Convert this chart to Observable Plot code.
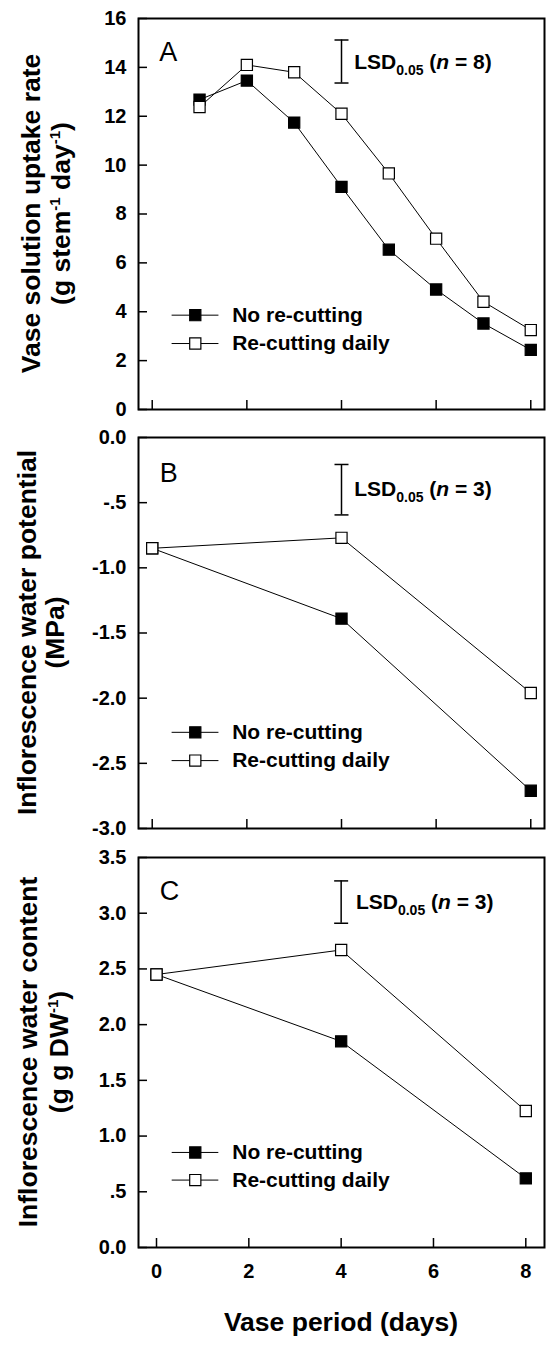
<!DOCTYPE html>
<html><head><meta charset="utf-8">
<script src="https://cdn.jsdelivr.net/npm/d3@7"></script>
<script src="https://cdn.jsdelivr.net/npm/@observablehq/plot@0.6"></script>
<style>
body{margin:0;background:#fff;}
#chart{width:551px;}
#chart svg{display:block;}
</style></head><body><div id="chart"></div>
<script>
const FONT = '"Liberation Sans", Arial, Helvetica, sans-serif';

// ---- data ----
const seriesNames = ["No re-cutting", "Re-cutting daily"];
const xTicks = [0, 2, 4, 6, 8];
const xTickLabels = ["0", "2", "4", "6", "8"];
const xTitle = "Vase period (days)";

// Panel A: vase solution uptake rate
const daysA = [1, 2, 3, 4, 5, 6, 7, 8];
const uptakeNoCut = [12.68, 13.46, 11.74, 9.11, 6.54, 4.91, 3.52, 2.44];
const uptakeReCut = [12.38, 14.10, 13.80, 12.10, 9.66, 6.99, 4.41, 3.25];
const uptakeLSD = [13.36, 15.12];
const yTicksA = [0, 2, 4, 6, 8, 10, 12, 14, 16];
const yLabelsA = ["0", "2", "4", "6", "8", "10", "12", "14", "16"];

// Panel B: inflorescence water potential
const daysBC = [0, 4, 8];
const potentialNoCut = [-0.85, -1.39, -2.71];
const potentialReCut = [-0.85, -0.77, -1.96];
const potentialLSD = [-0.594, -0.207];
const yTicksB = [0, -0.5, -1, -1.5, -2, -2.5, -3];
const yLabelsB = ["0.0", "-.5", "-1.0", "-1.5", "-2.0", "-2.5", "-3.0"];

// Panel C: inflorescence water content
const contentNoCut = [2.45, 1.85, 0.62];
const contentReCut = [2.45, 2.67, 1.225];
const contentLSD = [2.91, 3.29];
const yTicksC = [0, 0.5, 1, 1.5, 2, 2.5, 3, 3.5];
const yLabelsC = ["0.0", ".5", "1.0", "1.5", "2.0", "2.5", "3.0", "3.5"];

// ---- drawing ----
const capSymbol = {
  draw(context, size) {
    const r = Math.sqrt(size / Math.PI);
    context.moveTo(-r, 0);
    context.lineTo(r, 0);
  }
};

function makePanel(cfg) {
  const W = 551, mL = 138, mR = 7;
  const fw = W - mL - mR;
  const fh = cfg.height - cfg.marginTop - cfg.marginBottom;
  const rows = (xs, ys) => xs.map((x, i) => ({x, y: ys[i]}));
  const noCut = rows(cfg.days, cfg.noCut);
  const reCut = rows(cfg.days, cfg.reCut);
  const labelMap = new Map(cfg.yTicks.map((t, i) => [t, cfg.yLabels[i]]));
  const xLabelMap = new Map(xTicks.map((t, i) => [t, xTickLabels[i]]));
  const lsd = [{x: 4, y1: cfg.lsd[0], y2: cfg.lsd[1]}];
  const caps = [{x: 4, y: cfg.lsd[0]}, {x: 4, y: cfg.lsd[1]}];
  const legendRows = [
    {label: seriesNames[0], fill: "black", y: cfg.legendY[0]},
    {label: seriesNames[1], fill: "white", y: cfg.legendY[1]}
  ];
  const lx = cfg.legendX;
  const marks = [
    Plot.tickY(cfg.yTicks, {y: d => d, insetRight: fw - 9, stroke: "black", strokeWidth: 1.5}),
    Plot.tickX(xTicks, {x: d => d, insetTop: fh - 9, stroke: "black", strokeWidth: 1.5}),
    Plot.axisY(cfg.yTicks, {tickSize: 0, tickPadding: 12, tickFormat: d => labelMap.get(d), label: null, fontSize: 20, fontWeight: "bold"}),
    Plot.line(noCut, {x: "x", y: "y", stroke: "black", strokeWidth: 1}),
    Plot.line(reCut, {x: "x", y: "y", stroke: "black", strokeWidth: 1}),
    Plot.dot(noCut, {x: "x", y: "y", symbol: "square", r: 6.3, fill: "black", stroke: "black", strokeWidth: 1.2}),
    Plot.dot(reCut, {x: "x", y: "y", symbol: "square", r: 6.3, fill: "white", stroke: "black", strokeWidth: 1.2}),
    Plot.ruleX(lsd, {x: "x", y1: "y1", y2: "y2", stroke: "black", strokeWidth: 1.5}),
    Plot.dot(caps, {x: "x", y: "y", symbol: capSymbol, r: 7, stroke: "black", strokeWidth: 1.5, fill: "none"}),
    Plot.text([cfg.lsdText], {x: "x", y: "y", text: () => "LSD", textAnchor: "start", fontSize: 21, fontWeight: "bold"}),
    Plot.text([cfg.letter], {x: "x", y: "y", text: "t", textAnchor: "start", fontSize: 27, fontWeight: "normal"}),
    Plot.ruleY(legendRows, {y: "y", x1: lx[0], x2: lx[1], stroke: "black", strokeWidth: 1}),
    Plot.dot(legendRows, {x: lx[2], y: "y", symbol: "square", r: 6.3, fill: "fill", stroke: "black", strokeWidth: 1.2}),
    Plot.text(legendRows, {x: lx[3], y: "y", text: "label", textAnchor: "start", fontSize: 21, fontWeight: "bold"}),
    Plot.frame({stroke: "black", strokeWidth: 2})
  ];
  if (cfg.showX) {
    marks.push(Plot.axisX(xTicks, {tickSize: 0, tickPadding: 16.5, tickFormat: d => xLabelMap.get(d), label: null, fontSize: 20, fontWeight: "bold"}));
  }
  const svg = Plot.plot({
    width: W, height: cfg.height,
    marginLeft: mL, marginRight: mR, marginTop: cfg.marginTop, marginBottom: cfg.marginBottom,
    x: {domain: cfg.xDomain, axis: cfg.showX ? undefined : null},
    y: {domain: cfg.yDomain},
    color: {type: "identity"},
    style: {fontFamily: FONT, fontSize: "20px", fontWeight: "bold", color: "black", background: "white", overflow: "visible"},
    marks
  });
  // LSD label with subscript and italic
  d3.select(svg).selectAll("text")
    .filter(function() { return this.textContent === "LSD"; })
    .each(function() {
      const t = d3.select(this);
      t.text(null);
      t.append("tspan").text("LSD");
      t.append("tspan").attr("font-size", 14).attr("dy", 6).text("0.05");
      t.append("tspan").attr("dy", -6).text("\u00a0(");
      t.append("tspan").attr("font-style", "italic").text("n");
      t.append("tspan").text("\u00a0=\u00a0" + cfg.lsdText.n + ")");
    });

  // rotated y-axis titles
  const cy = cfg.marginTop + fh / 2;
  const g = d3.select(svg).append("g")
    .attr("font-family", FONT).attr("font-weight", "bold").attr("font-size", 26.5)
    .attr("text-anchor", "middle").attr("fill", "black");
  cfg.titleLines.forEach(line => {
    const tx = g.append("text").attr("transform", `translate(${line.x},${cy}) rotate(-90)`);
    line.parts.forEach(p => {
      if (p.sup) {
        tx.append("tspan").attr("font-size", 15).attr("dy", -10).text(p.t);
      } else {
        const ts = tx.append("tspan").text(p.t);
        if (p.after) ts.attr("dy", 10);
      }
    });
  });
  if (cfg.showX) {
    d3.select(svg).append("text")
      .attr("x", mL + fw / 2).attr("y", cfg.marginTop + fh + 84)
      .attr("text-anchor", "middle").attr("font-family", FONT)
      .attr("font-weight", "bold").attr("font-size", 26.5).attr("fill", "black")
      .text(xTitle);
  }
  return svg;
}

const panels = [
  {
    height: 428, marginTop: 18, marginBottom: 19,
    xDomain: [-0.29, 8.29], yDomain: [0, 16],
    yTicks: yTicksA, yLabels: yLabelsA,
    days: daysA, noCut: uptakeNoCut, reCut: uptakeReCut,
    lsd: uptakeLSD, lsdText: {x: 4.27, y: 14.2, n: 8},
    letter: {x: 0.15, y: 14.63, t: "A"},
    legendY: [3.86, 2.70], legendX: [0.42, 1.41, 0.91, 1.69],
    titleLines: [
      {x: 40, parts: [{t: "Vase solution uptake rate"}]},
      {x: 70, parts: [{t: "(g stem"}, {t: "-1", sup: true}, {t: " day", after: true}, {t: "-1", sup: true}, {t: ")", after: true}]}
    ],
    showX: false
  },
  {
    height: 419, marginTop: 9, marginBottom: 19,
    xDomain: [-0.29, 8.29], yDomain: [-3, 0],
    yTicks: yTicksB, yLabels: yLabelsB,
    days: daysBC, noCut: potentialNoCut, reCut: potentialReCut,
    lsd: potentialLSD, lsdText: {x: 4.27, y: -0.40, n: 3},
    letter: {x: 0.16, y: -0.273, t: "B"},
    legendY: [-2.262, -2.479], legendX: [0.42, 1.41, 0.91, 1.69],
    titleLines: [
      {x: 36, parts: [{t: "Inflorescence water potential"}]},
      {x: 64, parts: [{t: "(MPa)"}]}
    ],
    showX: false
  },
  {
    height: 500, marginTop: 10, marginBottom: 100,
    xDomain: [-0.39, 8.405], yDomain: [0, 3.5],
    yTicks: yTicksC, yLabels: yLabelsC,
    days: daysBC, noCut: contentNoCut, reCut: contentReCut,
    lsd: contentLSD, lsdText: {x: 4.32, y: 3.10, n: 3},
    letter: {x: 0.07, y: 3.2, t: "C"},
    legendY: [0.853, 0.605], legendX: [0.34, 1.35, 0.84, 1.64],
    titleLines: [
      {x: 37, parts: [{t: "Inflorescence water content"}]},
      {x: 68, parts: [{t: "(g g DW"}, {t: "-1", sup: true}, {t: ")", after: true}]}
    ],
    showX: true
  }
];

const chart = document.getElementById("chart");
panels.forEach(p => chart.appendChild(makePanel(p)));
</script>
</body></html>
